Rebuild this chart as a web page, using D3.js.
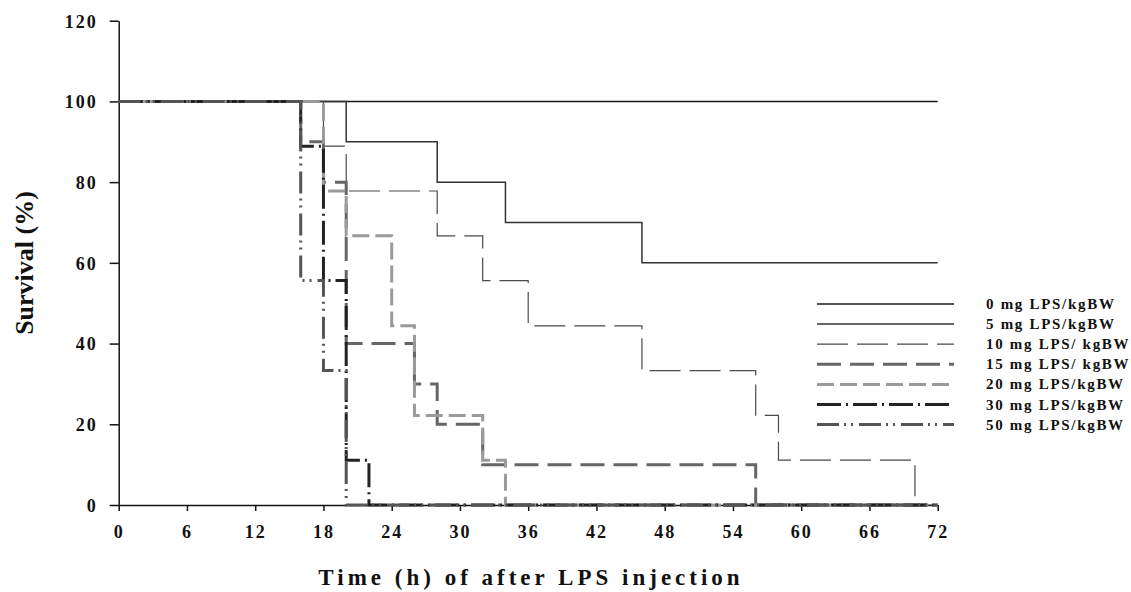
<!DOCTYPE html>
<html>
<head>
<meta charset="utf-8">
<script src="https://cdn.jsdelivr.net/npm/d3@7"></script>
<style>
  body { margin: 0; background: #fff; }
  svg text { font-family: "Liberation Serif", "Times New Roman", serif; font-weight: bold; fill: #111; }
</style>
</head>
<body>
<div id="chart"></div>
<script>
// group names (legend order)
const groups = ["0 mg LPS/kgBW", "5 mg LPS/kgBW", "10 mg LPS/ kgBW", "15 mg LPS/ kgBW",
  "20 mg LPS/kgBW", "30 mg LPS/kgBW", "50 mg LPS/kgBW"];

// step times (h) and survival (%) per group
const time0 = [0, 72];
const surv0 = [100, 100];
const time5 = [0, 20, 28, 34, 46, 72];
const surv5 = [100, 90, 80, 70, 60, 60];
const time10 = [0, 18, 20, 28, 32, 36, 46, 56, 58, 70, 72];
const surv10 = [100, 88.9, 77.8, 66.7, 55.6, 44.4, 33.3, 22.2, 11.1, 0, 0];
const time15 = [0, 16, 18, 20, 26, 28, 32, 56, 72];
const surv15 = [100, 90, 80, 40, 30, 20, 10, 0, 0];
const time20 = [0, 18, 20, 24, 26, 32, 34, 72];
const surv20 = [100, 77.8, 66.7, 44.4, 22.2, 11.1, 0, 0];
const time30 = [0, 16, 18, 20, 22, 72];
const surv30 = [100, 88.9, 55.6, 11.1, 0, 0];
const time50 = [0, 16, 18, 20, 72];
const surv50 = [100, 55.6, 33.3, 0, 0];

const xTicks = [0, 6, 12, 18, 24, 30, 36, 42, 48, 54, 60, 66, 72];
const yTicks = [0, 20, 40, 60, 80, 100, 120];

const times = [time0, time5, time10, time15, time20, time30, time50];
const survs = [surv0, surv5, surv10, surv15, surv20, surv30, surv50];

// line look per group
const styles = [
  { color: "#1a1a1a", width: 1.5, dash: null },
  { color: "#333333", width: 1.5, dash: null },
  { color: "#4a4a4a", width: 1.2, dash: "31,9" },
  { color: "#666666", width: 3, dash: "24,9" },
  { color: "#9a9a9a", width: 3, dash: "17,6" },
  { color: "#222222", width: 3, dash: "24,5,2,5" },
  { color: "#555555", width: 3, dash: "22,5,2,5,2,6" }
];

const W = 1131, H = 592;
const margin = { top: 20.7, left: 118.7 };
const width = 819, height = 484.3;

const svg = d3.select("#chart").append("svg")
  .attr("width", W).attr("height", H);

const g = svg.append("g")
  .attr("transform", "translate(" + margin.left + "," + margin.top + ")");

const x = d3.scaleLinear().domain([0, 72]).range([0, width]);
const y = d3.scaleLinear().domain([0, 120]).range([height, 0]);

// axes
const yAxis = g.append("g")
  .call(d3.axisLeft(y).tickValues(yTicks).tickSize(9).tickSizeOuter(0));
yAxis.select(".domain").attr("stroke", "#111").attr("stroke-width", 1.5);
yAxis.selectAll(".tick line").attr("stroke", "#111").attr("stroke-width", 1.5);
yAxis.selectAll(".tick text")
  .attr("x", -21).attr("dy", "0.35em")
  .style("font-size", "18px").style("letter-spacing", "2px")
  .style("font-family", "Liberation Serif").style("font-weight", "bold").attr("fill", "#111");

const xAxis = g.append("g")
  .attr("transform", "translate(0," + height + ")")
  .call(d3.axisBottom(x).tickValues(xTicks).tickSize(6).tickSizeOuter(0));
xAxis.select(".domain").attr("stroke", "#111").attr("stroke-width", 1.5);
xAxis.selectAll(".tick line").attr("stroke", "#111").attr("stroke-width", 1.5);
xAxis.selectAll(".tick text")
  .attr("y", 33).attr("dy", 0)
  .style("font-size", "18px").style("letter-spacing", "2px")
  .style("font-family", "Liberation Serif").style("font-weight", "bold").attr("fill", "#111");

// survival curves
const line = d3.line()
  .x(d => x(d[0]))
  .y(d => y(d[1]))
  .curve(d3.curveStepAfter);

groups.forEach((name, i) => {
  const pts = d3.zip(times[i], survs[i]);
  g.append("path")
    .datum(pts)
    .attr("fill", "none")
    .attr("stroke", styles[i].color)
    .attr("stroke-width", styles[i].width)
    .attr("stroke-dasharray", styles[i].dash)
    .attr("d", line);
});

// legend
const legend = svg.append("g").attr("transform", "translate(817,304)");
const rowH = 20.1;
legend.selectAll("line")
  .data(groups)
  .enter()
  .append("line")
  .attr("x1", 0).attr("x2", 137)
  .attr("y1", (d, i) => i * rowH).attr("y2", (d, i) => i * rowH)
  .attr("stroke", (d, i) => styles[i].color)
  .attr("stroke-width", (d, i) => styles[i].width)
  .attr("stroke-dasharray", (d, i) => styles[i].dash);
legend.selectAll("text")
  .data(groups)
  .enter()
  .append("text")
  .attr("x", 169)
  .attr("y", (d, i) => i * rowH + 5)
  .style("font-size", "15px")
  .style("letter-spacing", "1.7px")
  .text(d => d);

// axis titles
svg.append("text")
  .attr("transform", "translate(33,263) rotate(-90)")
  .attr("text-anchor", "middle")
  .style("font-size", "26px")
  .text("Survival (%)");

svg.append("text")
  .attr("x", 531).attr("y", 585)
  .attr("text-anchor", "middle")
  .style("font-size", "23px")
  .style("letter-spacing", "4px")
  .text("Time (h) of after LPS injection");
</script>
</body>
</html>
